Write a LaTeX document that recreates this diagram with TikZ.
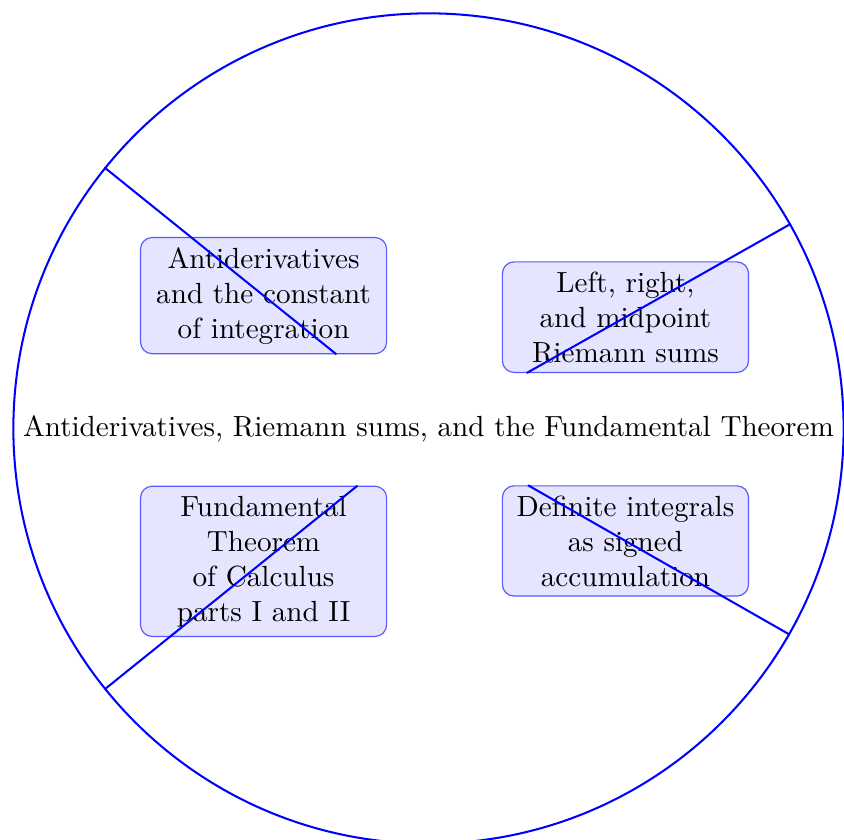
\documentclass[tikz,border=0pt]{standalone}
\begin{document}
\begin{tikzpicture}[x=1pt,y=1pt,
  hub/.style={circle,draw=blue,line width=0.7pt,inner sep=0.3333em},
  topic/.style={rectangle,rounded corners=4pt,draw=blue!65,fill=blue!10,line width=0.4pt,text width=77.8pt,align=center},
  spoke/.style={draw=blue,line width=0.7pt}]
\useasboundingbox (-147.06,147.06) rectangle (142.6,-140.9);
\node[hub] (c) at (0,0) {Antiderivatives, Riemann sums, and the Fundamental Theorem};
\node[topic] (a) at (-56.6,45.6) {Antiderivatives and the constant of integration};
\node[topic] (b) at (67.6,38.2) {Left, right,\\ and midpoint\\ Riemann sums};
\node[topic] (d) at (-56.6,-45.6) {Fundamental Theorem of Calculus parts I and II};
\node[topic] (e) at (67.6,-38.6) {Definite integrals as signed accumulation};
\draw[spoke] (c) -- (a);
\draw[spoke] (c) -- (b);
\draw[spoke] (c) -- (d);
\draw[spoke] (c) -- (e);
\end{tikzpicture}
\end{document}
